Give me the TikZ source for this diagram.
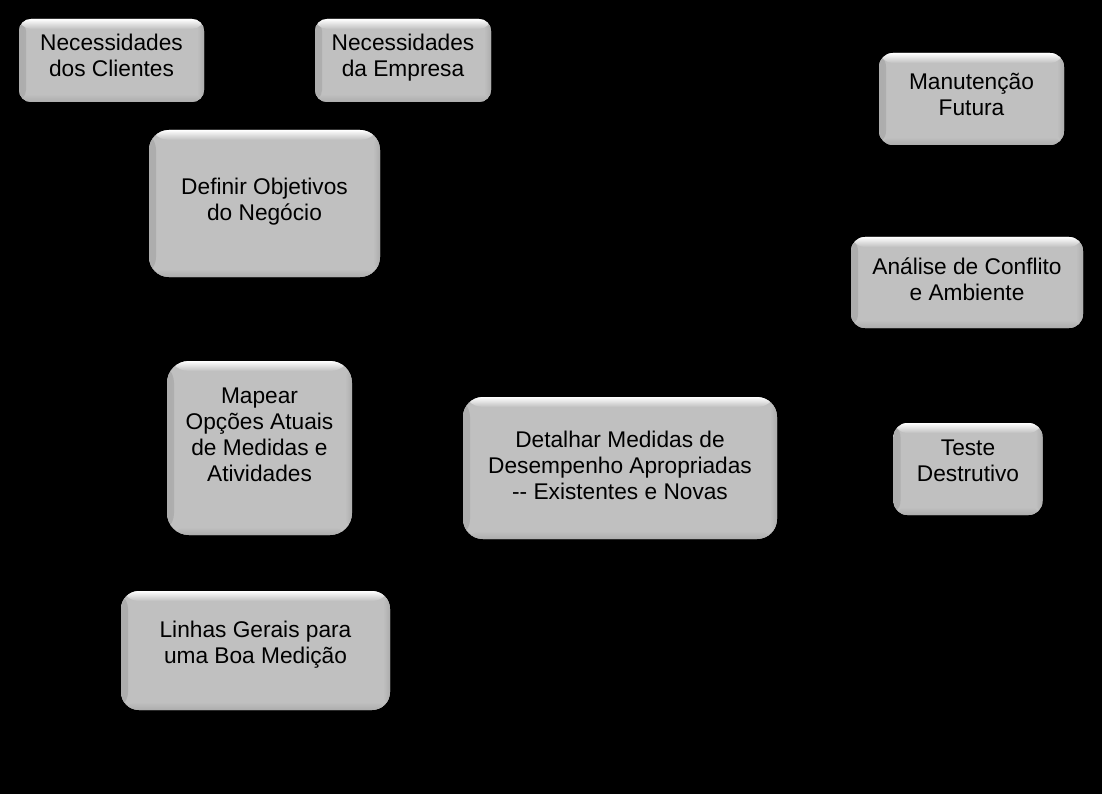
\documentclass[tikz,border=0pt]{standalone}
\usepackage{fontspec}
\setmainfont{Liberation Sans}
\definecolor{boxgray}{HTML}{C0C0C0}
\definecolor{boxdark}{HTML}{ADADAD}
\tikzset{
  bev/.style={rounded corners=#1, fill=boxgray, inner sep=0pt, draw=none,
    path picture={
      \shade[left color=boxdark, right color=boxgray]
        (path picture bounding box.south west) rectangle ([xshift=7pt]path picture bounding box.north west);
      \shade[left color=boxgray, right color=boxdark]
        ([xshift=-7pt]path picture bounding box.south east) rectangle (path picture bounding box.north east);
      \shade[top color=boxgray, bottom color=boxdark]
        ([yshift=8pt]path picture bounding box.south west) rectangle (path picture bounding box.south east);
      \shade[top color=white, bottom color=boxgray]
        (path picture bounding box.north west) rectangle ([yshift=-10pt]path picture bounding box.north east);
    }},
  bev/.default=12pt,
  txt/.style={align=center, text=black, font=\fontsize{22.7}{26}\selectfont, inner sep=0pt}
}
\begin{document}
\begin{tikzpicture}[x=1pt,y=-1pt]
\fill[black] (0,0) rectangle (1102,794);
\useasboundingbox (0,0) rectangle (1102,794);

\node[bev=12pt, minimum width=185pt, minimum height=83pt] (nc) at (111.5,60.5) {};
\node[txt, anchor=north] (ncT) at (111.5,34) {Necessidades\\dos Clientes};

\node[bev=12pt, minimum width=176pt, minimum height=83pt] (ne) at (403,60.5) {};
\node[txt, anchor=north] (neT) at (403,34) {Necessidades\\da Empresa};

\node[bev=20pt, minimum width=231pt, minimum height=147pt] (dob) at (264.5,203.5) {};
\node[txt, anchor=north] (dobT) at (264.5,178) {Definir Objetivos\\do Negócio};

\node[bev=14pt, minimum width=185pt, minimum height=92pt] (mf) at (971.5,99) {};
\node[txt, anchor=north] (mfT) at (971.5,73) {Manutenção\\Futura};

\node[bev=14pt, minimum width=232pt, minimum height=91pt] (ac) at (967,282.5) {};
\node[txt, anchor=north] (acT) at (967,258) {Análise de Conflito\\e Ambiente};

\node[bev=22pt, minimum width=185pt, minimum height=174pt] (mp) at (259.5,448) {};
\node[txt, anchor=north] (mpT) at (259.5,388) {Mapear\\Opções Atuais\\de Medidas e\\Atividades};

\node[bev=20pt, minimum width=314pt, minimum height=142pt] (dm) at (620,468) {};
\node[txt, anchor=north] (dmT) at (620,431) {Detalhar Medidas de\\Desempenho Apropriadas\\-{}- Existentes e Novas};

\node[bev=14pt, minimum width=149pt, minimum height=92pt] (td) at (968,469) {};
\node[txt, anchor=north] (tdT) at (968,440) {Teste\\Destrutivo};

\node[bev=18pt, minimum width=269pt, minimum height=119pt] (lg) at (255.5,650.5) {};
\node[txt, anchor=north] (lgT) at (255.5,621) {Linhas Gerais para\\uma Boa Medição};
\end{tikzpicture}
\end{document}
